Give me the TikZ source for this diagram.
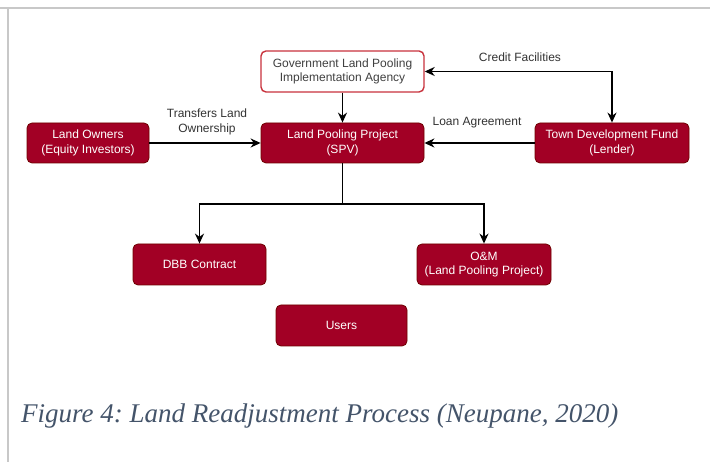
\documentclass[tikz,border=0pt]{standalone}
\usepackage{fontspec}
\setmainfont{Liberation Sans}
\newfontfamily\capfont{Liberation Serif}
\usetikzlibrary{arrows.meta}
\definecolor{boxred}{HTML}{A20025}
\definecolor{boxedge}{HTML}{6F0000}
\definecolor{govedge}{HTML}{C8323C}
\definecolor{capcol}{HTML}{44546A}
\definecolor{framegray}{HTML}{C8C8C8}
\frenchspacing
\tikzset{
  redbox/.style={draw=boxedge, fill=boxred, text=white, rounded corners=5pt, line width=0.8pt,
    align=center, font=\fontsize{12}{14.5}\selectfont, inner sep=0pt},
  govbox/.style={draw=govedge, fill=white, text=black!75, rounded corners=5pt, line width=1.4pt,
    align=center, font=\fontsize{12}{14.5}\selectfont, inner sep=0pt},
  conn/.style={line width=1.6pt, black, -{Stealth[length=10pt,width=9pt]}},
  lbl/.style={font=\fontsize{12}{14.5}\selectfont, text=black!80, align=center}
}
\begin{document}
\begin{tikzpicture}[x=1pt,y=1pt]
\useasboundingbox (0,0) rectangle (710,462);
\fill[white] (0,0) rectangle (710,462);
\draw[framegray, line width=2.5pt] (0,454) -- (710,454);
\draw[framegray, line width=2pt] (8,454) -- (8,0);

\node[govbox, minimum width=163pt, minimum height=41pt] (gov) at (342.5,390.5) {Government Land Pooling\\Implementation Agency};
\node[redbox, minimum width=163pt, minimum height=40pt] (spv) at (342.5,319) {Land Pooling Project\\(SPV)};
\node[redbox, minimum width=122pt, minimum height=40pt] (lo) at (88,319) {Land Owners\\(Equity Investors)};
\node[redbox, minimum width=154pt, minimum height=40pt] (tdf) at (612,319) {Town Development Fund\\(Lender)};
\node[redbox, minimum width=133pt, minimum height=41pt] (dbb) at (199.5,197.5) {DBB Contract};
\node[redbox, minimum width=134pt, minimum height=41pt] (om) at (484,197.5) {O\&M\\(Land Pooling Project)};
\node[redbox, minimum width=131pt, minimum height=41pt] (users) at (341.5,136.5) {Users};

\coordinate (jn) at (342.5,258);

\draw[conn] (gov.south) -- (spv.north);
\draw[conn, {Stealth[length=10pt,width=9pt]}-{Stealth[length=10pt,width=9pt]}] (gov.east) -- (gov.east -| tdf.north) -- (tdf.north);
\draw[conn] (tdf.west) -- (spv.east);
\draw[conn] (lo.east) -- (spv.west);
\draw[line width=1.6pt] (spv.south) -- (jn);
\draw[conn] (jn) -| (dbb.north);
\draw[conn] (jn) -| (om.north);

\node[lbl] (cf) at (520,405) {Credit Facilities};
\node[lbl] (la) at (477,339) {Loan Agreement};
\node[lbl] (tl) at (207,340) {Transfers Land\\Ownership};

\node[anchor=base west, inner sep=0pt, text=capcol, font=\capfont\itshape\fontsize{27}{32}\selectfont] (cap) at (21,39) {Figure 4: Land Readjustment Process (Neupane, 2020)};
\end{tikzpicture}
\end{document}
